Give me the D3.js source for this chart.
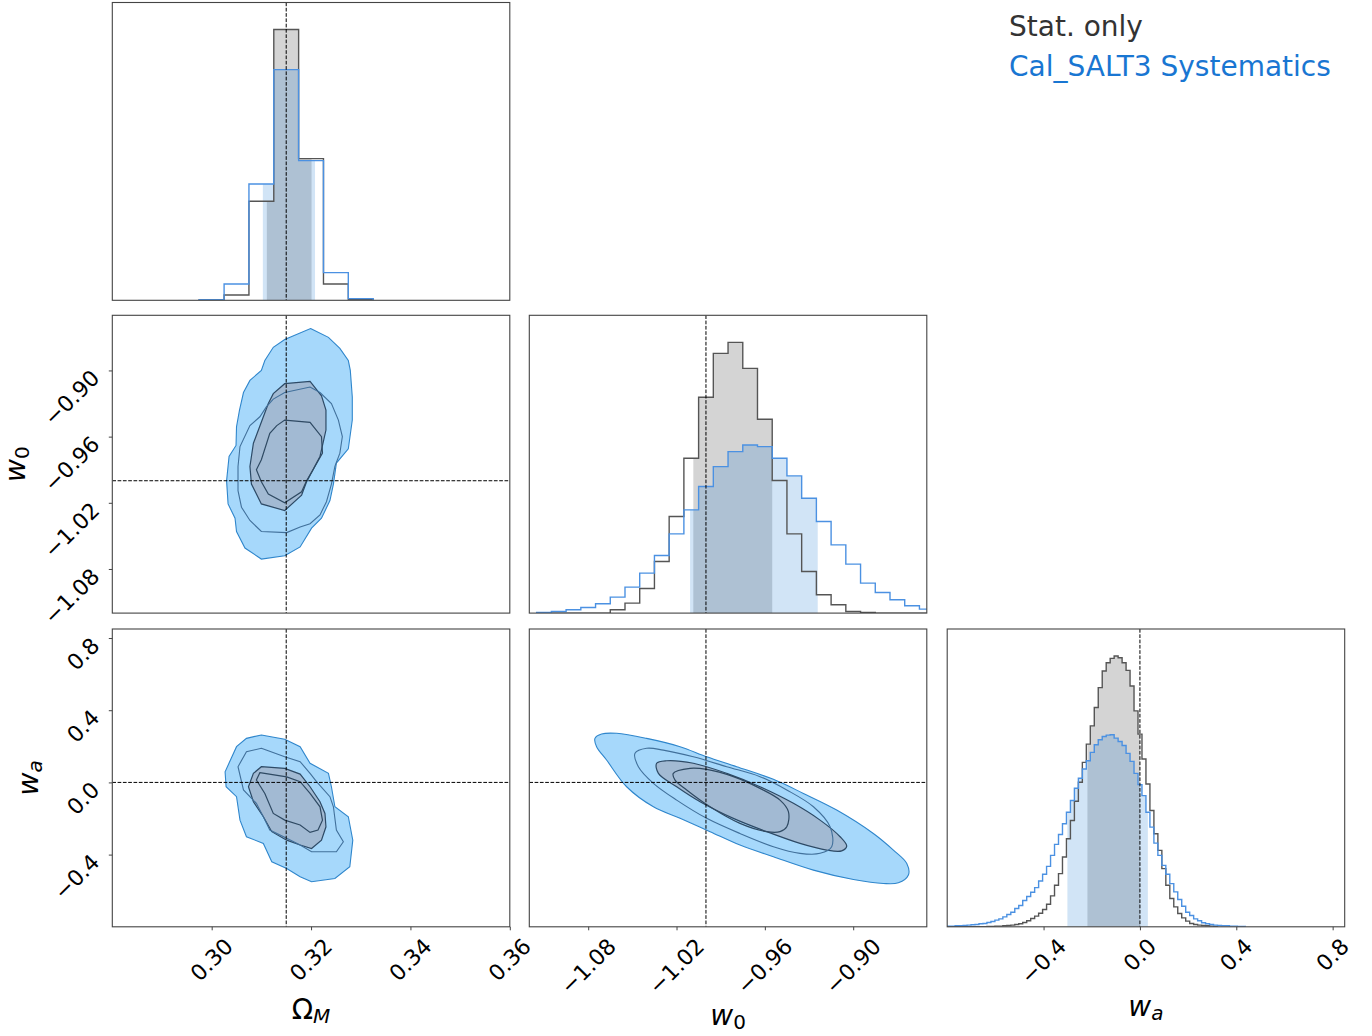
<!DOCTYPE html>
<html>
<head>
<meta charset="utf-8">
<script src="https://cdn.jsdelivr.net/npm/d3@7"></script>
<style>
body { margin:0; background:#fff; }
svg text { font-family: "DejaVu Sans", sans-serif; }
</style>
</head>
<body>
<svg id="chart" width="1372" height="1036"></svg>
<script>
// ---- data ----
const OmTicks = [0.30, 0.32, 0.34, 0.36]
const w0Ticks = [-1.08, -1.02, -0.96, -0.90]
const waTicks = [-0.4, 0.0, 0.4, 0.8]
const OmTruth = 0.315, w0Truth = -1.0, waTruth = 0.0

// 1D histograms (relative counts), bins start / width
const OmStart = 0.2975, OmBin = 0.005
const OmStat = [2, 16, 297, 812, 425, 49, 3]
const OmSys  = [2, 49, 349, 692, 419, 83, 5]
const OmStatCI = [0.3111, 0.3201], OmSysCI = [0.3103, 0.3208]

const w0Start = -1.115, w0Bin = 0.01
const w0Stat = [0,0,0,0,0,10,30,74,155,290,465,648,780,813,735,582,398,238,125,55,25,5,2,0,0,0,0]
const w0Sys  = [2,5,10,17,28,48,78,120,173,238,310,380,440,485,505,500,465,412,345,275,205,147,90,62,40,22,12]
const w0StatCI = [-1.0086, -0.955], w0SysCI = [-1.0108, -0.9241]

const waStart = -0.8, waBin = 0.0165
const waStat = [0,0,0,0,0,0,0,0,0,0,1, 1,2,2,3, 4,5,7,9,13,18,25,32,41,52,
  68,93,125,160,210,265,320,378,435,495,550,605,660,720,770,795,808,815,810,795,772,725,
  650,580,505,430,350,280,230,175,125,85,60,40,27,17,10,7,5,4,3,2,1]
const waSys = [2,2,3,3,4,5,6,7,9,10, 13,16,20,24,30,37,44,55,64,79, 91,104,118,138,158,182,215,248,278,310,
  345,380,417,447,475,500,525,548,563,573, 577,578,568,558,546,522,498,462,428,395,
  345,300,252,215,185,158,130,105,82,62, 44,34,24,18,12,9,7,5,4,3, 3,2,2,1,1]
const waStatCI = [-0.218, 0.0], waSysCI = [-0.301, 0.033]

// 2D credible contours [x, y]
const OmW0_sys95 = [[0.3199,-0.862],[0.3235,-0.870],[0.3258,-0.880],[0.3275,-0.891],[0.3279,-0.900],[0.3283,-0.924],[0.3283,-0.945],[0.3275,-0.971],[0.3251,-0.984],[0.3245,-1.003],[0.3238,-1.018],[0.3221,-1.034],[0.3201,-1.043],[0.3178,-1.060],[0.3147,-1.068],[0.3100,-1.071],[0.3067,-1.061],[0.3050,-1.046],[0.3047,-1.034],[0.3033,-1.021],[0.3030,-1.000],[0.3035,-0.978],[0.3049,-0.968],[0.3050,-0.951],[0.3056,-0.936],[0.3064,-0.920],[0.3077,-0.909],[0.3100,-0.900],[0.3107,-0.891],[0.3124,-0.879],[0.3147,-0.872]]
const OmW0_sys68 = [[0.3147,-0.920],[0.3198,-0.915],[0.3218,-0.920],[0.3241,-0.930],[0.3255,-0.945],[0.3263,-0.960],[0.3258,-0.975],[0.3248,-0.987],[0.3241,-1.003],[0.3231,-1.019],[0.3218,-1.031],[0.3198,-1.039],[0.3178,-1.042],[0.3151,-1.047],[0.3100,-1.046],[0.3077,-1.036],[0.3060,-1.024],[0.3053,-1.009],[0.3053,-0.987],[0.3057,-0.969],[0.3077,-0.950],[0.3097,-0.942],[0.3110,-0.933],[0.3124,-0.926]]
const OmW0_stat95 = [[0.3147,-0.912],[0.3198,-0.910],[0.3221,-0.923],[0.3230,-0.936],[0.3230,-0.954],[0.3218,-0.978],[0.3191,-1.001],[0.3181,-1.013],[0.3147,-1.027],[0.3100,-1.021],[0.3080,-1.003],[0.3077,-0.987],[0.3084,-0.966],[0.3104,-0.942],[0.3114,-0.930],[0.3124,-0.921]]
const OmW0_stat68 = [[0.3147,-0.945],[0.3198,-0.947],[0.3221,-0.960],[0.3223,-0.975],[0.3204,-0.990],[0.3191,-1.000],[0.3181,-1.010],[0.3147,-1.020],[0.3114,-1.012],[0.3100,-1.001],[0.3090,-0.990],[0.3100,-0.981],[0.3117,-0.957],[0.3131,-0.950]]

const OmWa_sys95 = [[0.3100,0.263],[0.3147,0.239],[0.3178,0.198],[0.3198,0.106],[0.3235,0.050],[0.3241,-0.024],[0.3248,-0.135],[0.3275,-0.190],[0.3284,-0.320],[0.3278,-0.467],[0.3248,-0.532],[0.3201,-0.550],[0.3178,-0.523],[0.3151,-0.477],[0.3121,-0.440],[0.3104,-0.338],[0.3070,-0.301],[0.3057,-0.209],[0.3050,-0.079],[0.3029,-0.024],[0.3027,0.059],[0.3050,0.198],[0.3070,0.244]]
const OmWa_sys68 = [[0.3100,0.189],[0.3147,0.142],[0.3178,0.115],[0.3198,0.050],[0.3211,0.004],[0.3238,-0.079],[0.3245,-0.135],[0.3251,-0.264],[0.3265,-0.329],[0.3251,-0.384],[0.3201,-0.384],[0.3178,-0.347],[0.3151,-0.310],[0.3117,-0.264],[0.3104,-0.190],[0.3090,-0.116],[0.3064,-0.042],[0.3053,0.087],[0.3070,0.170]]
const OmWa_stat95 = [[0.3100,0.087],[0.3147,0.078],[0.3178,0.046],[0.3198,-0.024],[0.3218,-0.107],[0.3228,-0.172],[0.3230,-0.246],[0.3221,-0.320],[0.3201,-0.366],[0.3178,-0.347],[0.3151,-0.320],[0.3121,-0.273],[0.3104,-0.190],[0.3084,-0.107],[0.3074,-0.024],[0.3084,0.050]]
const OmWa_stat68 = [[0.3097,0.054],[0.3151,0.031],[0.3178,0.004],[0.3198,-0.061],[0.3218,-0.135],[0.3223,-0.209],[0.3214,-0.264],[0.3198,-0.277],[0.3178,-0.236],[0.3147,-0.209],[0.3124,-0.172],[0.3107,-0.061],[0.3090,0.013]]

const W0Wa_sys95 = [[-1.0754,0.244],[-1.0709,0.268],[-1.0607,0.272],[-1.0403,0.244],[-1.0176,0.198],[-0.9995,0.142],[-0.9791,0.087],[-0.9542,0.017],[-0.9338,-0.061],[-0.9112,-0.153],[-0.8863,-0.283],[-0.8727,-0.375],[-0.8636,-0.449],[-0.8625,-0.513],[-0.8693,-0.556],[-0.8795,-0.560],[-0.8998,-0.538],[-0.9270,-0.486],[-0.9542,-0.412],[-0.9769,-0.347],[-0.9972,-0.273],[-1.0176,-0.199],[-1.0357,-0.135],[-1.0539,-0.024],[-1.0675,0.124],[-1.0743,0.198]]
const W0Wa_sys68 = [[-1.0482,0.161],[-1.0403,0.189],[-1.0290,0.179],[-1.0086,0.142],[-0.9859,0.087],[-0.9633,0.032],[-0.9451,-0.042],[-0.9270,-0.135],[-0.9157,-0.246],[-0.9146,-0.356],[-0.9225,-0.393],[-0.9361,-0.393],[-0.9542,-0.356],[-0.9769,-0.283],[-0.9995,-0.199],[-1.0199,-0.098],[-1.0357,-0.005],[-1.0459,0.087]]
const W0Wa_stat95 = [[-1.0335,0.106],[-1.0267,0.120],[-1.0086,0.106],[-0.9859,0.050],[-0.9633,-0.024],[-0.9406,-0.116],[-0.9225,-0.209],[-0.9089,-0.301],[-0.9044,-0.353],[-0.9078,-0.379],[-0.9180,-0.375],[-0.9361,-0.338],[-0.9587,-0.273],[-0.9814,-0.199],[-1.0040,-0.107],[-1.0199,-0.024],[-1.0323,0.050]]
const W0Wa_stat68 = [[-1.0222,0.050],[-1.0108,0.078],[-0.9995,0.072],[-0.9814,0.032],[-0.9633,-0.033],[-0.9497,-0.098],[-0.9440,-0.162],[-0.9451,-0.246],[-0.9497,-0.273],[-0.9587,-0.273],[-0.9769,-0.227],[-0.9972,-0.135],[-1.0131,-0.042],[-1.0210,0.013]]

const legendNames = ["Stat. only", "Cal_SALT3 Systematics"]

// ---- layout ----
const colX = [112.3, 529.3, 947.2], rowY = [2.5, 315.3, 629], PW = 397.5, PH = 297.8
const tickFont = 22
const svg = d3.select("#chart")

const xOm = d3.scaleLinear().domain([0.28, 0.36]).range([colX[0], colX[0]+PW])
const xW0 = d3.scaleLinear().domain([-1.12, -0.85]).range([colX[1], colX[1]+PW])
const xWa = d3.scaleLinear().domain([-0.8, 0.85]).range([colX[2], colX[2]+PW])
const yW0 = d3.scaleLinear().domain([-1.12, -0.85]).range([rowY[1]+PH, rowY[1]])
const yWa = d3.scaleLinear().domain([-0.8, 0.85]).range([rowY[2]+PH, rowY[2]])

let clipN = 0
function clipRect(x0, y0, w, h){
	const id = "clip"+(clipN++)
	svg.append("clipPath").attr("id", id).append("rect").attr("x",x0).attr("y",y0).attr("width",w).attr("height",h)
	return "url(#"+id+")"
}

function frame(c, r){
	svg.append("rect").attr("x",colX[c]).attr("y",rowY[r]).attr("width",PW).attr("height",PH)
		.attr("fill","none").attr("stroke","#444").attr("stroke-width",1.1)
}

function stepPts(start, w, counts){
	const pts = [[start, 0]]
	counts.forEach(function(c,i){ pts.push([start+i*w, c]) })
	pts.push([start+counts.length*w, counts[counts.length-1]])
	pts.push([start+counts.length*w, 0])
	return pts
}

function drawHist(c, r, x, start, w, stat, sys, statCI, sysCI, truth){
	const y = d3.scaleLinear().domain([0, 1.1*d3.max(stat)]).range([rowY[r]+PH, rowY[r]])
	const g = svg.append("g").attr("clip-path", clipRect(colX[c], rowY[r], PW, PH))
	const area = d3.area().x(d=>x(d[0])).y0(y(0)).y1(d=>y(d[1])).curve(d3.curveStepAfter)
	const line = d3.line().x(d=>x(d[0])).y(d=>y(d[1])).curve(d3.curveStepAfter)
	g.append("path").attr("d", area(stepPts(start,w,stat))).attr("fill","#000").attr("fill-opacity",0.17)
		.attr("clip-path", clipRect(x(statCI[0]), rowY[r], x(statCI[1])-x(statCI[0]), PH))
	g.append("path").attr("d", area(stepPts(start,w,sys))).attr("fill","#1976d2").attr("fill-opacity",0.2)
		.attr("clip-path", clipRect(x(sysCI[0]), rowY[r], x(sysCI[1])-x(sysCI[0]), PH))
	g.append("path").attr("d", line(stepPts(start,w,stat))).attr("fill","none").attr("stroke","#555").attr("stroke-width",1.4)
	g.append("path").attr("d", line(stepPts(start,w,sys))).attr("fill","none").attr("stroke","#4b91e2").attr("stroke-width",1.4)
	g.append("line").attr("x1",x(truth)).attr("x2",x(truth)).attr("y1",rowY[r]).attr("y2",rowY[r]+PH)
		.attr("stroke","#000").attr("stroke-width",1).attr("stroke-dasharray","3.7,1.6")
	frame(c, r)
}

function draw2D(c, r, x, y, sys95, sys68, stat95, stat68, tx, ty, smooth){
	const g = svg.append("g").attr("clip-path", clipRect(colX[c], rowY[r], PW, PH))
	const curve = smooth ? d3.curveCatmullRomClosed.alpha(0.5) : d3.curveLinearClosed
	const line = d3.line().x(d=>x(d[0])).y(d=>y(d[1])).curve(curve)
	g.append("path").attr("d", line(sys95)).attr("fill","#a6d8fb").attr("stroke","#2f86cc").attr("stroke-width",1.1)
	g.append("path").attr("d", line(stat95)).attr("fill","#a2bad3").attr("stroke","#2d4a66").attr("stroke-width",1.2)
	g.append("path").attr("d", line(sys68)).attr("fill","none").attr("stroke","#41709b").attr("stroke-width",1.1)
	g.append("path").attr("d", line(stat68)).attr("fill","none").attr("stroke","#2f4a63").attr("stroke-width",1.2)
	g.append("line").attr("x1",x(tx)).attr("x2",x(tx)).attr("y1",rowY[r]).attr("y2",rowY[r]+PH)
		.attr("stroke","#000").attr("stroke-width",1).attr("stroke-dasharray","3.7,1.6")
	g.append("line").attr("x1",colX[c]).attr("x2",colX[c]+PW).attr("y1",y(ty)).attr("y2",y(ty))
		.attr("stroke","#000").attr("stroke-width",1).attr("stroke-dasharray","3.7,1.6")
	frame(c, r)
}

function xAxis(c, x, ticks, fmt){
	const y0 = rowY[2]+PH
	svg.append("g").attr("transform","translate(0,"+y0+")")
		.call(d3.axisBottom(x).tickValues(ticks).tickSize(3.5).tickFormat(""))
		.call(g => g.select(".domain").remove())
		.selectAll(".tick line").attr("stroke","#444")
	ticks.forEach(function(v){
		const t = svg.append("text").attr("font-size",tickFont).attr("fill","#000")
			.attr("text-anchor","middle").attr("dominant-baseline","central").text(d3.format(fmt)(v))
		const ext = (t.node().getComputedTextLength() + 0.73*tickFont)/Math.SQRT2
		t.attr("transform","translate("+x(v)+","+(y0+10+ext/2)+") rotate(-45)")
	})
}

function yAxis(r, y, ticks, fmt){
	const x0 = colX[0]
	svg.append("g").attr("transform","translate("+x0+",0)")
		.call(d3.axisLeft(y).tickValues(ticks).tickSize(3.5).tickFormat(""))
		.call(g => g.select(".domain").remove())
		.selectAll(".tick line").attr("stroke","#444")
	ticks.forEach(function(v){
		const t = svg.append("text").attr("font-size",tickFont).attr("fill","#000")
			.attr("text-anchor","middle").attr("dominant-baseline","central").text(d3.format(fmt)(v))
		const ext = (t.node().getComputedTextLength() + 0.73*tickFont)/Math.SQRT2
		t.attr("transform","translate("+(x0-11-ext/2)+","+(y(v)-2+ext/2)+") rotate(-45)")
	})
}

function mathLabel(x, y, rot, main, mainItalic, sub, subItalic){
	const t = svg.append("text").attr("font-size",28).attr("fill","#000").attr("text-anchor","middle")
		.attr("transform","translate("+x+","+y+") rotate("+rot+")")
	t.append("tspan").attr("font-style", mainItalic ? "italic" : "normal").text(main)
	t.append("tspan").attr("font-style", subItalic ? "italic" : "normal").attr("font-size",20).attr("dy",4).text(sub)
}

// ---- panels ----
drawHist(0, 0, xOm, OmStart, OmBin, OmStat, OmSys, OmStatCI, OmSysCI, OmTruth)
drawHist(1, 1, xW0, w0Start, w0Bin, w0Stat, w0Sys, w0StatCI, w0SysCI, w0Truth)
drawHist(2, 2, xWa, waStart, waBin, waStat, waSys, waStatCI, waSysCI, waTruth)

draw2D(0, 1, xOm, yW0, OmW0_sys95, OmW0_sys68, OmW0_stat95, OmW0_stat68, OmTruth, w0Truth, false)
draw2D(0, 2, xOm, yWa, OmWa_sys95, OmWa_sys68, OmWa_stat95, OmWa_stat68, OmTruth, waTruth, false)
draw2D(1, 2, xW0, yWa, W0Wa_sys95, W0Wa_sys68, W0Wa_stat95, W0Wa_stat68, w0Truth, waTruth, true)

xAxis(0, xOm, OmTicks, ".2f")
xAxis(1, xW0, w0Ticks, ".2f")
xAxis(2, xWa, waTicks, ".1f")
yAxis(1, yW0, w0Ticks, ".2f")
yAxis(2, yWa, waTicks, ".1f")

mathLabel(colX[0]+PW/2, 1019, 0, "\u03a9", false, "M", true)
mathLabel(colX[1]+PW/2, 1025, 0, "w", true, "0", false)
mathLabel(colX[2]+PW/2, 1016, 0, "w", true, "a", true)
mathLabel(25, rowY[1]+PH/2, -90, "w", true, "0", false)
mathLabel(38, rowY[2]+PH/2, -90, "w", true, "a", true)

// ---- legend ----
svg.selectAll(".legend").data(legendNames).enter().append("text").attr("class","legend")
	.attr("x",1009).attr("y",(d,i)=>36+i*40).attr("font-size",28)
	.attr("fill",(d,i)=> i==0 ? "#333" : "#1976d2").text(d=>d)
</script>
</body>
</html>
